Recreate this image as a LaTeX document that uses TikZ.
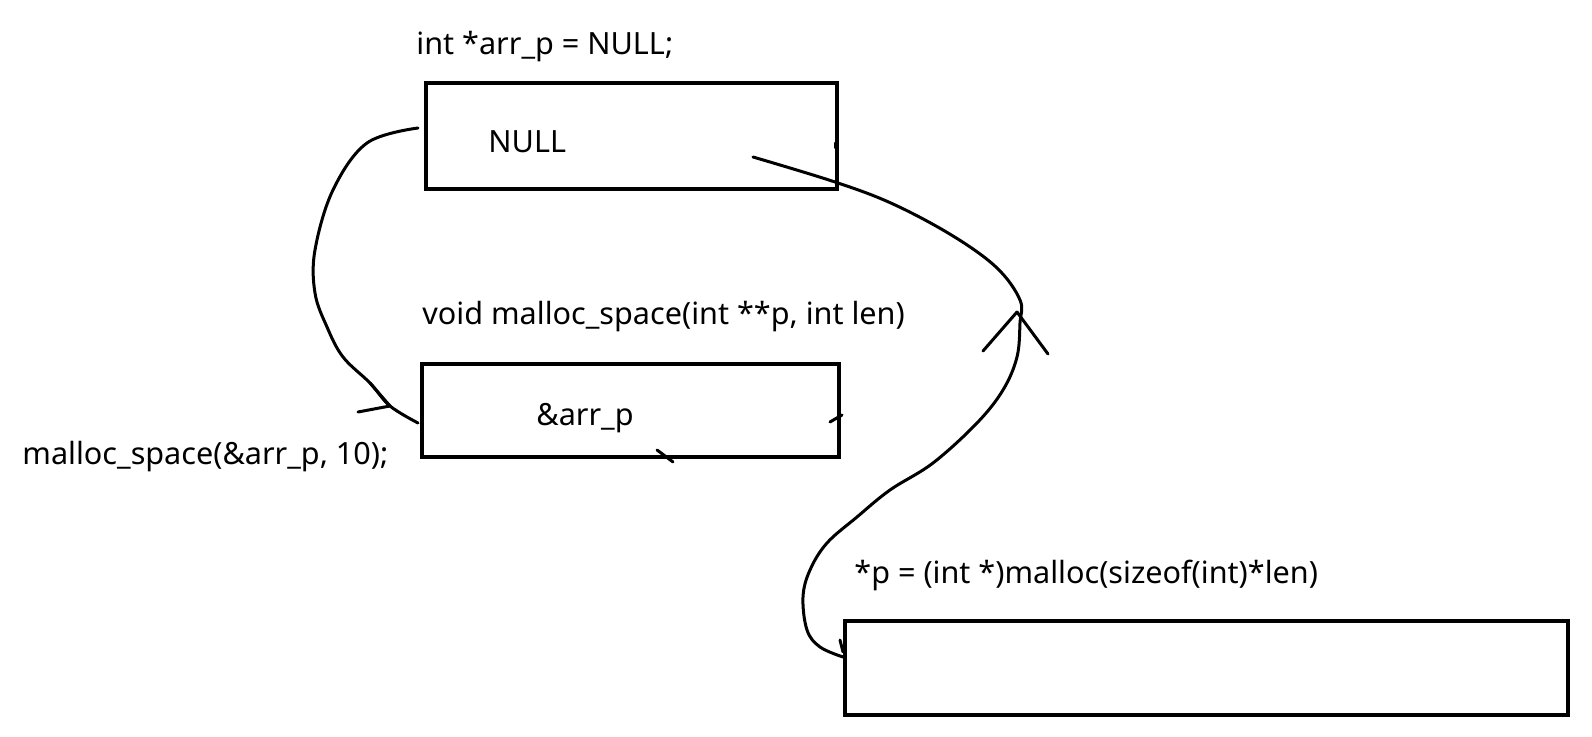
\documentclass[tikz,border=0pt]{standalone}
\usepackage{fontspec}
\setmainfont{Noto Sans}
\begin{document}
\begin{tikzpicture}[x=0.5pt,y=-0.5pt,
  box/.style={draw,line width=2.1pt,inner sep=0pt,anchor=north west},
  lbl/.style={anchor=base west,inner sep=0pt,font=\fontsize{15.3pt}{18pt}\selectfont},
  pen/.style={line width=1.5pt,line cap=round,line join=round}]
\useasboundingbox[fill=white] (0,0) rectangle (1592,737);
% boxes
\node[box, minimum width=205.5pt, minimum height=53pt] (b1) at (424,81) {};
\node[box, minimum width=208.5pt, minimum height=46.5pt] (b2) at (420,362) {};
\node[box, minimum width=361.5pt, minimum height=47pt] (b3) at (843,619) {};
% texts
\node[lbl] (t1) at (416,55) {int *arr\_p = NULL;};
\node[lbl] (t2) at (488,153) {NULL};
\node[lbl] (t3) at (422,325) {void malloc\_space(int **p, int len)};
\node[lbl] (t4) at (536,426) {\&arr\_p};
\node[lbl] (t5) at (22,465) {malloc\_space(\&arr\_p, 10);};
\node[lbl] (t6) at (854,584) {*p = (int *)malloc(sizeof(int)*len)};
% left curve
\coordinate (s1) at (418,128);
\coordinate (e1) at (418,423);
\coordinate (h1) at (390,406);
\draw[pen] plot[smooth,tension=0.6] coordinates {(s1) (367,143) (333,190) (315,250) (315,293) (327,327) (343,357) (370,383) (h1) (e1)};
\draw[pen] (h1) -- (358,412);
\draw[pen] (h1) -- (370,383);
% right curve
\coordinate (s2) at (753,157);
\coordinate (h2) at (1017,312);
\coordinate (e2) at (843,657);
\draw[pen] plot[smooth,tension=0.6] coordinates {(s2) (835,182) (893,204) (953,236) (997,268) (1020,300) (1020,323) (1017,357) (1003,390) (977,423) (933,463) (890,490) (857,517) (827,543) (810,570) (803,597) (807,630) (820,647) (e2)};
\draw[pen] (h2) -- (983,351);
\draw[pen] (h2) -- (1048,354);
% small ticks
\draw[pen] (835,143) -- (835,148);
\draw[pen] (830,422) -- (842,415);
\draw[pen] (657,450) -- (673,462);
\draw[pen] (840,640) -- (843,652);
\end{tikzpicture}
\end{document}
